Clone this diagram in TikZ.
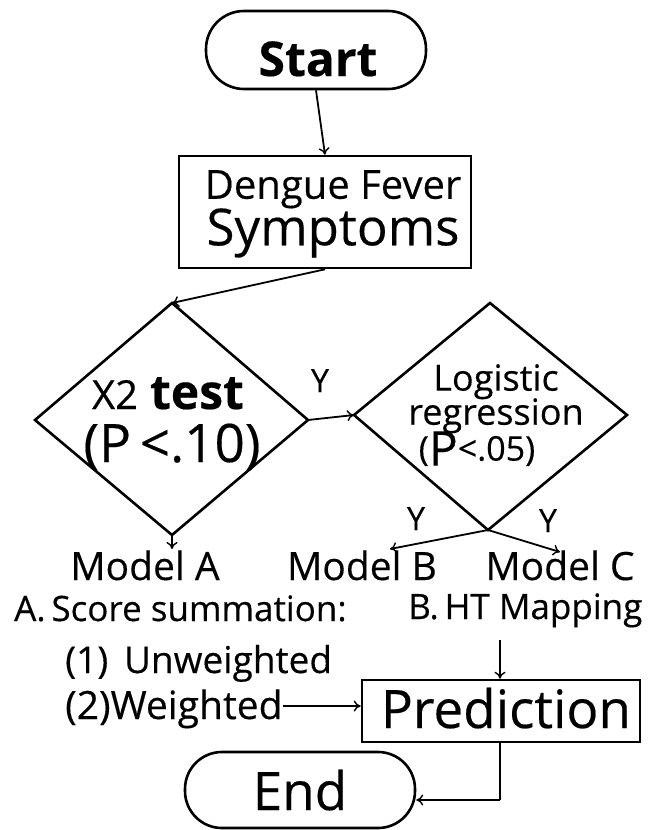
\documentclass[tikz,border=0pt]{standalone}
\usepackage{fontspec}
\setmainfont{Open Sans}[FakeBold=0.35]
\usetikzlibrary{arrows.meta,shapes.geometric}
\begin{document}
\begin{tikzpicture}[x=1pt,y=-1pt,
  shapeline/.style={draw=black,line width=2.6pt},
  conn/.style={line width=1.8pt,-{To[length=7pt,width=11pt,line width=1.4pt]}},
  lbl/.style={inner sep=0pt,anchor=base},
  lblw/.style={inner sep=0pt,anchor=base west},
  multi/.style={inner sep=0pt,anchor=north,align=center}]
\useasboundingbox (0,0) rectangle (657,830);
% Start
\node[shapeline,rounded corners=38pt,minimum width=220pt,minimum height=78pt] (start) at (316,50) {};
\node[lbl,font=\fontsize{48}{48}\selectfont\bfseries] (startt) at (318,76) {Start};
% Dengue
\node[shapeline,minimum width=292pt,minimum height=112pt] (deng) at (325,212) {};
\node[multi] (dengt) at (333,170) {\fontsize{40}{40}\selectfont Dengue Fever\\[-1pt]\fontsize{51}{51}\selectfont Symptoms};
\draw[conn] (start.south) -- (deng.north);
% Diamond 1
\coordinate (d1t) at (172,303);
\coordinate (d1l) at (35,420);
\coordinate (d1r) at (308,420);
\coordinate (d1b) at (172,535);
\draw[shapeline,line join=miter] (d1t) -- (d1r) -- (d1b) -- (d1l) -- cycle;
\node[lbl] (d1a) at (168,409) {{\fontsize{40}{40}\selectfont X2}\hspace{12pt}{\fontsize{48}{48}\selectfont\bfseries test}};
\node[lbl] (d1c) at (172,462) {\fontsize{53}{53}\selectfont (P\,<.10)};
% Diamond 2
\coordinate (d2t) at (490,303);
\coordinate (d2l) at (354,415);
\coordinate (d2r) at (627,415);
\coordinate (d2b) at (488,530);
\draw[shapeline,line join=miter] (d2t) -- (d2r) -- (d2b) -- (d2l) -- cycle;
\node[multi] (d2txt) at (496,364) {\fontsize{36}{36}\selectfont Logistic\\[-2pt]\fontsize{36}{36}\selectfont regression\\[-3pt]\hspace*{-38pt}\fontsize{34}{34}\selectfont (\raisebox{-5pt}{\fontsize{48}{48}\selectfont P}<.05)};
\draw[conn] (deng.south) -- (d1t);
\draw[conn] (d1r) -- (d2l);
\node[lbl] (y1) at (320,392) {\fontsize{32}{32}\selectfont Y};
% Models
\node[lbl] (ma) at (145,580) {\fontsize{39}{39}\selectfont Model A};
\node[lbl] (mb) at (362,580) {\fontsize{39}{39}\selectfont Model B};
\node[lbl] (mc) at (560,580) {\fontsize{39}{39}\selectfont Model C};
\coordinate (mbt) at (390,549);
\coordinate (mct) at (560,552);
\draw[conn] (d1b) -- ++(0,14);
\draw[conn] (d2b) -- (mbt);
\draw[conn] (d2b) -- (mct);
\node[lbl] (y2) at (416,530) {\fontsize{32}{32}\selectfont Y};
\node[lbl] (y3) at (548,532) {\fontsize{32}{32}\selectfont Y};
% Score lines
\node[lblw] (sa) at (14,621) {\fontsize{35}{35}\selectfont A.\,Score summation:};
\node[lblw] (sb) at (408,619) {\fontsize{35}{35}\selectfont B.\,HT Mapping};
\node[lblw] (s1) at (65,673) {\fontsize{37}{37}\selectfont (1)\, Unweighted};
\node[lblw] (s2) at (65,719) {\fontsize{39}{39}\selectfont (2)Weighted};
% Prediction
\node[shapeline,minimum width=278pt,minimum height=62pt,inner sep=0pt] (pred) at (501,711) {};
\node[lbl] (predt) at (506,728) {\fontsize{53}{53}\selectfont Prediction};
\coordinate (s2e) at (283,706);
\draw[conn] (s2e) -- (pred.west |- s2e);
\coordinate (htb) at (500,640);
\draw[conn] (htb) -- (pred.north -| htb);
% End
\node[shapeline,rounded corners=37pt,minimum width=230pt,minimum height=76pt] (endn) at (300,790) {};
\node[lbl] (endt) at (300,810) {\fontsize{53}{53}\selectfont End};
\coordinate (corner) at (500,800);
\draw[line width=1.8pt] (pred.south -| corner) -- (corner);
\draw[conn] (corner) -- (endn.east |- corner);
\end{tikzpicture}
\end{document}
